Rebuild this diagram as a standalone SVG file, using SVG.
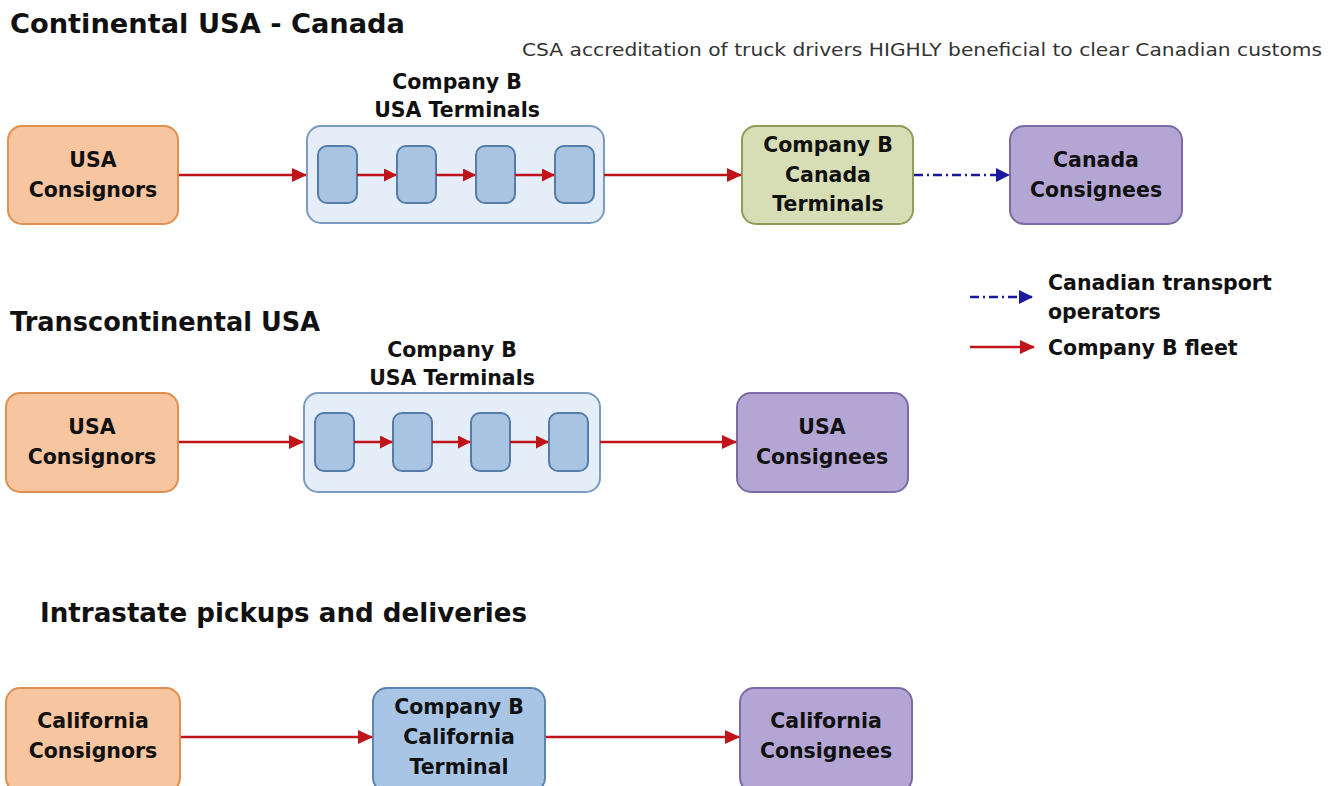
<svg xmlns="http://www.w3.org/2000/svg" width="1335" height="786" viewBox="0 0 1335 786">
<style>
text{font-family:"DejaVu Sans","Liberation Sans",sans-serif;fill:#111}
.title{font-size:27px;font-weight:bold}
.lbl{font-size:20.5px;font-weight:bold;text-anchor:middle}
.lg{font-size:20.5px;font-weight:bold}
.sub{font-size:17px;font-weight:normal;fill:#333}
.orange{fill:#F7C59F;stroke:#DF9050;stroke-width:2}
.cont{fill:#E4EDF8;stroke:#7B9CC0;stroke-width:2}
.inner{fill:#A9C3E2;stroke:#557DA8;stroke-width:2}
.green{fill:#D7DEB5;stroke:#8E9C5C;stroke-width:2}
.purple{fill:#B4A6D4;stroke:#7B6CA6;stroke-width:2}
.blue{fill:#A8C5E6;stroke:#5B84B1;stroke-width:2}
.red{stroke:#C0141B;stroke-width:2.4;fill:none;marker-end:url(#ar)}
.reds{stroke:#C0141B;stroke-width:2.4;fill:none;marker-end:url(#ars)}
.dash{stroke:#1A1A9C;stroke-width:2.4;fill:none;stroke-dasharray:9 4 2 4;marker-end:url(#ab)}
</style>
<defs>
<marker id="ar" markerWidth="15" markerHeight="14" refX="14" refY="7" orient="auto" markerUnits="userSpaceOnUse"><path d="M0,0 L15,7 L0,14 Z" fill="#C0141B"/></marker>
<marker id="ars" markerWidth="13" markerHeight="13" refX="12" refY="6.5" orient="auto" markerUnits="userSpaceOnUse"><path d="M0,0 L13,6.5 L0,13 Z" fill="#C0141B"/></marker>
<marker id="ab" markerWidth="14" markerHeight="14" refX="13" refY="7" orient="auto" markerUnits="userSpaceOnUse"><path d="M0,0 L14,7 L0,14 Z" fill="#1A1A9C"/></marker>
</defs>
<rect width="1335" height="786" fill="#fff"/>

<text class="title" x="10" y="33" textLength="395" lengthAdjust="spacingAndGlyphs">Continental USA - Canada</text>
<text class="sub" x="522" y="56" textLength="800" lengthAdjust="spacingAndGlyphs">CSA accreditation of truck drivers HIGHLY beneficial to clear Canadian customs</text>
<text class="title" x="10" y="331" textLength="310" lengthAdjust="spacingAndGlyphs">Transcontinental USA</text>
<text class="title" x="40" y="622" textLength="487" lengthAdjust="spacingAndGlyphs">Intrastate pickups and deliveries</text>

<g id="legend">
<line class="dash" x1="970" y1="297" x2="1032" y2="297"/>
<line class="red" x1="970" y1="347" x2="1034" y2="347"/>
<text class="lg" x="1048" y="290">Canadian transport</text>
<text class="lg" x="1048" y="319">operators</text>
<text class="lg" x="1048" y="355">Company B fleet</text>
</g>

<g id="usa-consignors-1">
<rect class="orange" x="8" y="126" width="170" height="98" rx="14"/>
<text class="lbl" x="93" y="167">USA</text>
<text class="lbl" x="93" y="197">Consignors</text>
</g>
<g id="usa-terminals-1">
<text class="lbl" x="457" y="89">Company B</text>
<text class="lbl" x="457" y="117">USA Terminals</text>
<rect class="cont" x="307" y="126" width="297" height="97" rx="14"/>
<rect class="inner" x="318" y="146" width="39" height="57" rx="9"/>
<rect class="inner" x="397" y="146" width="39" height="57" rx="9"/>
<rect class="inner" x="476" y="146" width="39" height="57" rx="9"/>
<rect class="inner" x="555" y="146" width="39" height="57" rx="9"/>
</g>
<g id="canada-terminals">
<rect class="green" x="742" y="126" width="171" height="98" rx="14"/>
<text class="lbl" x="828" y="152">Company B</text>
<text class="lbl" x="828" y="182">Canada</text>
<text class="lbl" x="828" y="211">Terminals</text>
</g>
<g id="canada-consignees">
<rect class="purple" x="1010" y="126" width="172" height="98" rx="14"/>
<text class="lbl" x="1096" y="167">Canada</text>
<text class="lbl" x="1096" y="197">Consignees</text>
</g>

<g id="usa-consignors-2">
<rect class="orange" x="6" y="393" width="172" height="99" rx="14"/>
<text class="lbl" x="92" y="434">USA</text>
<text class="lbl" x="92" y="464">Consignors</text>
</g>
<g id="usa-terminals-2">
<text class="lbl" x="452" y="357">Company B</text>
<text class="lbl" x="452" y="385">USA Terminals</text>
<rect class="cont" x="304" y="393" width="296" height="99" rx="14"/>
<rect class="inner" x="315" y="413" width="39" height="58" rx="9"/>
<rect class="inner" x="393" y="413" width="39" height="58" rx="9"/>
<rect class="inner" x="471" y="413" width="39" height="58" rx="9"/>
<rect class="inner" x="549" y="413" width="39" height="58" rx="9"/>
</g>
<g id="usa-consignees">
<rect class="purple" x="737" y="393" width="171" height="99" rx="14"/>
<text class="lbl" x="822" y="434">USA</text>
<text class="lbl" x="822" y="464">Consignees</text>
</g>

<g id="california-consignors">
<rect class="orange" x="6" y="688" width="174" height="104" rx="14"/>
<text class="lbl" x="93" y="728">California</text>
<text class="lbl" x="93" y="758">Consignors</text>
</g>
<g id="california-terminal">
<rect class="blue" x="373" y="688" width="172" height="104" rx="14"/>
<text class="lbl" x="459" y="714">Company B</text>
<text class="lbl" x="459" y="744">California</text>
<text class="lbl" x="459" y="774">Terminal</text>
</g>
<g id="california-consignees">
<rect class="purple" x="740" y="688" width="172" height="104" rx="14"/>
<text class="lbl" x="826" y="728">California</text>
<text class="lbl" x="826" y="758">Consignees</text>
</g>

<g id="connectors">
<line class="red" x1="179" y1="175" x2="306" y2="175"/>
<line class="reds" x1="357" y1="175" x2="396" y2="175"/>
<line class="reds" x1="436" y1="175" x2="475" y2="175"/>
<line class="reds" x1="515" y1="175" x2="554" y2="175"/>
<line class="red" x1="604" y1="175" x2="741" y2="175"/>
<line class="dash" x1="914" y1="175" x2="1009" y2="175"/>
<line class="red" x1="179" y1="442" x2="303" y2="442"/>
<line class="reds" x1="354" y1="442" x2="392" y2="442"/>
<line class="reds" x1="432" y1="442" x2="470" y2="442"/>
<line class="reds" x1="510" y1="442" x2="548" y2="442"/>
<line class="red" x1="600" y1="442" x2="736" y2="442"/>
<line class="red" x1="181" y1="737" x2="372" y2="737"/>
<line class="red" x1="546" y1="737" x2="739" y2="737"/>
</g>
</svg>
